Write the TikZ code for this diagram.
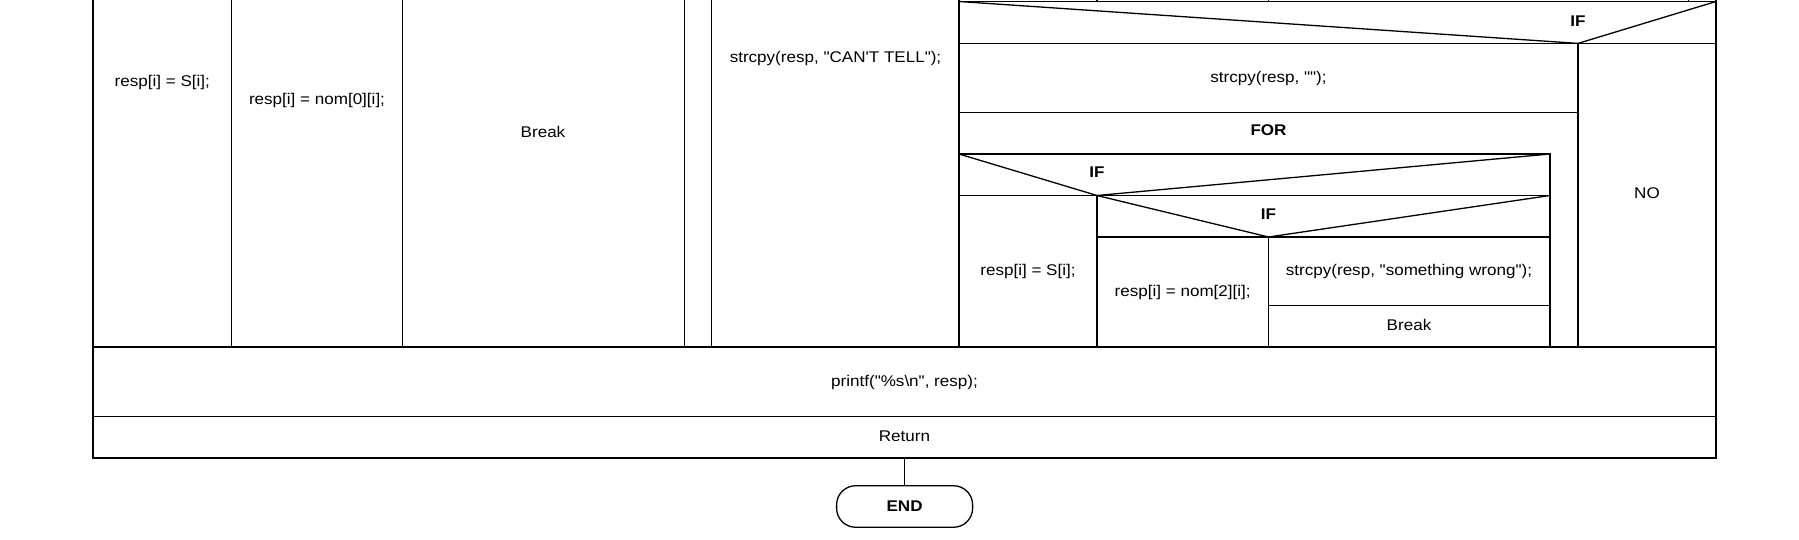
\documentclass[tikz,border=0pt]{standalone}
\usepackage{fontspec}
\newfontfamily\diafont[FakeStretch=1.1]{Liberation Sans}
\begin{document}
\begin{tikzpicture}[x=1pt,y=-1pt, line width=1.3pt,
  lbl/.style={inner sep=0pt, anchor=base, font=\diafont\fontsize{15.5}{18}\selectfont},
  blbl/.style={inner sep=0pt, anchor=base, font=\diafont\fontsize{15.5}{18}\selectfont\bfseries},
  term/.style={draw, rounded corners=19pt, minimum width=136pt, minimum height=41.5pt, inner sep=0pt, font=\diafont\fontsize{15.5}{18}\selectfont\bfseries}]
\useasboundingbox (0,0) rectangle (1799,540);
% outer frame and rows
\draw (93,0) -- (93,458) -- (1716,458) -- (1716,0);
\draw (93,347) -- (1716,347);
\draw (93,416.7) -- (1716,416.7);
% left columns
\foreach \xx in {231.7,402.7,684.3,711.8,959}{\draw (\xx,0) -- (\xx,347);}
% top strip
\draw (959,1.5) -- (1716,1.5);
\foreach \xx in {1097,1268.5,1688.4}{\draw (\xx,0) -- (\xx,1.5);}
% top IF
\draw (959,1.5) -- (1578,43.4) -- (1716,1.5);
\draw (959,43.4) -- (1716,43.4);
\draw (1578,43.4) -- (1578,347);
\draw (959,112.5) -- (1578,112.5);
% FOR body
\draw (959,154) -- (1550,154) -- (1550,347);
% IF 1
\draw (959,154) -- (1097,195.5) -- (1550,154);
\draw (959,195.5) -- (1550,195.5);
\draw (1097,195.5) -- (1097,347);
% IF 2
\draw (1097,195.5) -- (1268.5,237) -- (1550,195.5);
\draw (1097,237) -- (1550,237);
\draw (1268.5,237) -- (1268.5,347);
\draw (1268.5,305.8) -- (1550,305.8);
% texts
\node[lbl] (t1) at (162.3,86.2) {resp[i] = S[i];};
\node[lbl] (t2) at (317,104.5) {resp[i] = nom[0][i];};
\node[lbl] (t3) at (543,137.5) {Break};
\node[lbl] (t4) at (835.5,62.8) {strcpy(resp, "CAN'T TELL");};
\node[blbl] (if0) at (1578,26.2) {IF};
\node[lbl] (t5) at (1268.5,83) {strcpy(resp, "");};
\node[blbl] (for) at (1268.5,135.8) {FOR};
\node[blbl] (if1) at (1097,177.5) {IF};
\node[blbl] (if2) at (1268.5,219) {IF};
\node[lbl] (t6) at (1028,275.8) {resp[i] = S[i];};
\node[lbl] (t7) at (1182.7,296.5) {resp[i] = nom[2][i];};
\node[lbl] (t8) at (1409,275.8) {strcpy(resp, "something wrong");};
\node[lbl] (t9) at (1409,330.9) {Break};
\node[lbl] (no) at (1647,198.8) {NO};
\node[lbl] (pr) at (904.5,386.5) {printf("\%s\textbackslash n", resp);};
\node[lbl] (ret) at (904.5,441.5) {Return};
\coordinate (retb) at (904.6,458);
\node[term] (end) at (904.6,506.5) {END};
\draw (retb) -- (end.north);
\end{tikzpicture}
\end{document}
